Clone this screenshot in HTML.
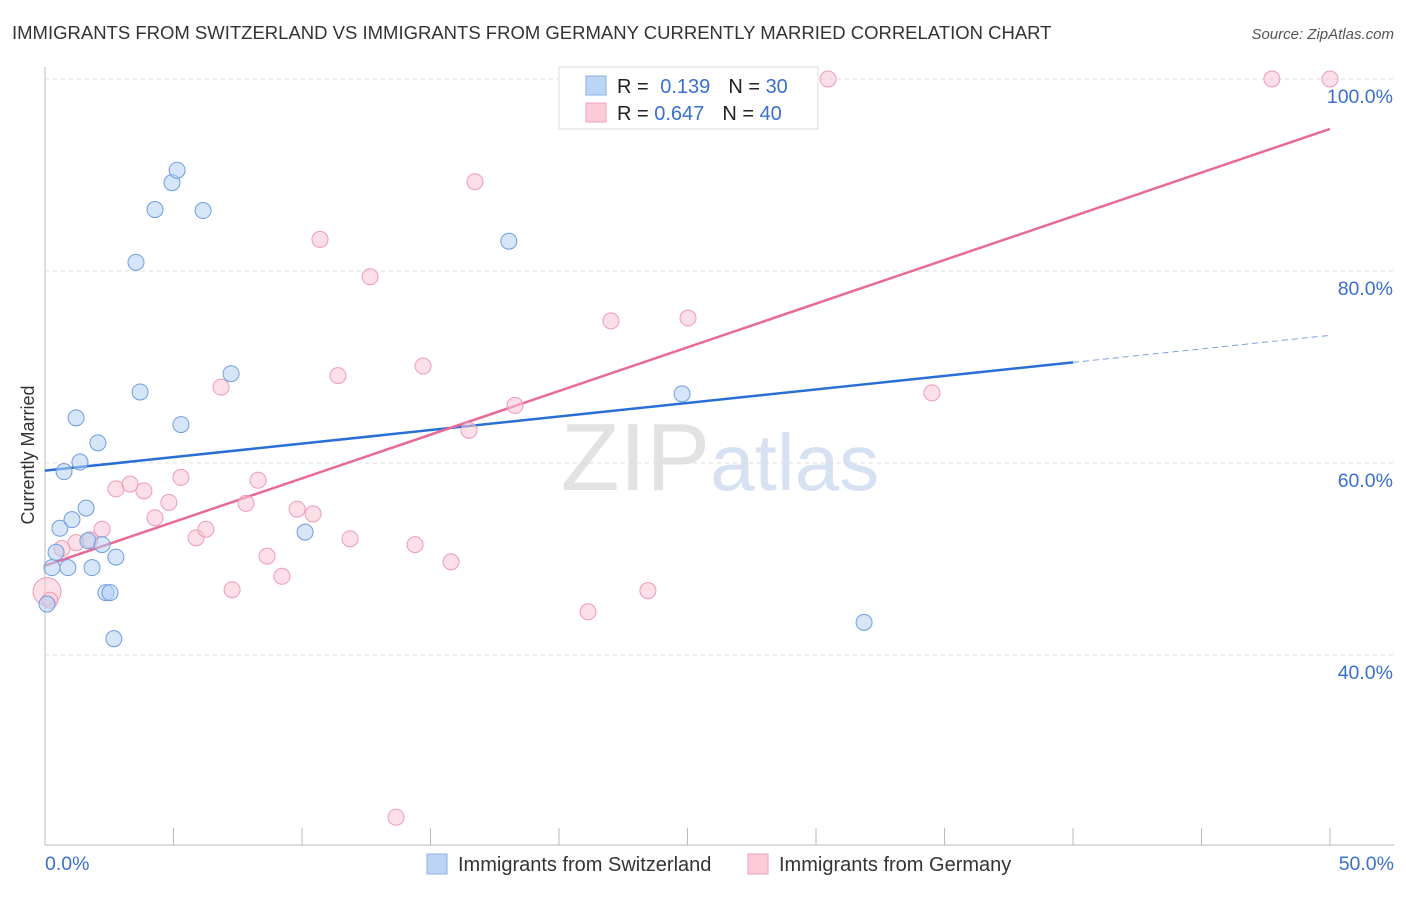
<!DOCTYPE html>
<html><head><meta charset="utf-8"><style>
body{margin:0;background:#fff;font-family:"Liberation Sans",sans-serif;}
svg text{font-family:"Liberation Sans",sans-serif;}
</style></head><body>
<svg id="chart" width="1406" height="892" xmlns="http://www.w3.org/2000/svg">
<text x="12" y="39" font-size="18.5" fill="#333">IMMIGRANTS FROM SWITZERLAND VS IMMIGRANTS FROM GERMANY CURRENTLY MARRIED CORRELATION CHART</text>
<text x="1394" y="39" font-size="15" fill="#555" text-anchor="end" font-style="italic">Source: ZipAtlas.com</text>
<text x="720" y="490" font-size="96" text-anchor="middle" font-family="Liberation Serif"><tspan fill="#e2e2e2">ZIP</tspan><tspan fill="#d6e2f2" font-family="Liberation Sans" font-size="80">atlas</tspan></text>
<g id="grid"></g><g id="axes"></g><g id="lines"></g><g id="points"></g>
<text transform="translate(34,455) rotate(-90)" font-size="18" fill="#333" text-anchor="middle">Currently Married</text>
<g>
<rect x="559" y="67" width="259" height="62" fill="#fff" stroke="#ddd"/>
<rect x="586" y="76" width="20" height="19" fill="#bcd5f5" stroke="#8ab0e6"/>
<rect x="586" y="103" width="20" height="19" fill="#fbcbd9" stroke="#f0a0b8"/>
<text x="617" y="93" font-size="20" fill="#222">R = <tspan fill="#3a6fd0" dx="6">0.139</tspan><tspan dx="18" fill="#222">N = </tspan><tspan fill="#3a6fd0">30</tspan></text>
<text x="617" y="120" font-size="20" fill="#222">R = <tspan fill="#3a6fd0">0.647</tspan><tspan dx="18" fill="#222">N = </tspan><tspan fill="#3a6fd0">40</tspan></text>
</g>
<g>
<rect x="427" y="854" width="20" height="20" fill="#bcd5f5" stroke="#8ab0e6"/>
<text x="458" y="871" font-size="20" fill="#333">Immigrants from Switzerland</text>
<rect x="748" y="854" width="20" height="20" fill="#fbcbd9" stroke="#f0a0b8"/>
<text x="779" y="871" font-size="20" fill="#333">Immigrants from Germany</text>
</g>
</svg>
<script>
const yTicks=[40,60,80,100];
const yTickLabels=["40.0%","60.0%","80.0%","100.0%"];
const blueX=[0.08,0.27,0.43,0.58,0.74,0.89,1.05,1.21,1.36,1.60,1.67,1.83,2.06,2.22,2.37,2.53,2.68,2.76,3.54,3.70,4.28,4.94,5.14,5.29,6.15,7.24,10.12,18.05,24.79,31.87];
const blueY=[45.3,49.1,50.7,53.2,59.1,49.1,54.1,64.7,60.1,55.3,51.9,49.1,62.1,51.5,46.5,46.5,41.7,50.2,80.9,67.4,86.4,89.2,90.5,64.0,86.3,69.3,52.8,83.1,67.2,43.4];
const pinkX=[0.08,0.19,0.66,1.21,1.75,2.22,2.76,3.31,3.85,4.28,4.82,5.29,5.88,6.26,6.85,7.28,7.82,8.29,8.64,9.22,9.81,10.43,10.70,11.40,11.87,12.65,13.66,14.40,14.71,15.80,16.50,16.73,18.29,21.13,22.02,23.46,25.02,30.47,34.51,47.74,50.0];
const pinkY=[46.6,45.7,51.1,51.7,52.0,53.1,57.3,57.8,57.1,54.3,55.9,58.5,52.2,53.1,67.9,46.8,55.8,58.2,50.3,48.2,55.2,54.7,83.3,69.1,52.1,79.4,23.1,51.5,70.1,49.7,63.4,89.3,66.0,44.5,74.8,46.7,75.1,100,67.3,100,100];
const blueLine=[59.2,73.3];
const pinkLine=[49.3,94.8];
const NS="http://www.w3.org/2000/svg";
const X=v=>45+v*25.7, Y=v=>79+(100-v)*9.6;
function mk(t,a,p){const e=document.createElementNS(NS,t);for(const k in a)e.setAttribute(k,a[k]);p.appendChild(e);return e;}
const grid=document.getElementById('grid'),axes=document.getElementById('axes'),lines=document.getElementById('lines'),pts=document.getElementById('points');
yTicks.forEach((t,i)=>{
 const l=mk('line',{x1:45,x2:1394,y1:Y(t),y2:Y(t),stroke:'#ddd','stroke-dasharray':'4,4'},grid);
 
 
 const tx=mk('text',{x:1393,y:Y(t)+24,'font-size':19.5,fill:'#3a6fd0','text-anchor':'end'},grid);
 tx.textContent=yTickLabels[i];
 
 
});
const ya=mk('line',{x1:45,x2:45,y1:67,y2:845,stroke:'#bbb'},axes);


const xa=mk('line',{x1:45,x2:1394,y1:845,y2:845,stroke:'#bbb'},axes);


for(let i=0;i<=10;i++){const t=mk('line',{x1:X(i*5),x2:X(i*5),y1:828,y2:845,stroke:'#bbb'},axes);
 
 }
[[0,"0.0%","start",45],[50,"50.0%","end",1394]].forEach(d=>{const t=mk('text',{x:d[3],y:870,'font-size':19.5,fill:'#3a6fd0','text-anchor':d[2]},axes);t.textContent=d[1];
 
 });
function pt(xs,ys,fill,stroke,name){xs.forEach((x,i)=>{const c=mk('circle',{cx:X(x),cy:Y(ys[i]),r:(i===0&&name==='germany-point')?14:8,fill:fill,'fill-opacity':0.55,stroke:stroke,'stroke-width':1},pts);
 
 });}
pt(pinkX,pinkY,'#f9c4d4','#ee9bb5','germany-point');
pt(blueX,blueY,'#b5cff2','#6f9de0','switzerland-point');
const b=v=>blueLine[0]+(blueLine[1]-blueLine[0])*v/50;
const bl=mk('line',{x1:X(0),y1:Y(b(0)),x2:X(40),y2:Y(b(40)),stroke:'#2a6fd6','stroke-width':2.5},lines);


const bd=mk('line',{x1:X(40),y1:Y(b(40)),x2:X(50),y2:Y(b(50)),stroke:'#7aa3e0','stroke-width':1,'stroke-dasharray':'6,4'},lines);


const pl=mk('line',{x1:X(0),y1:Y(pinkLine[0]),x2:X(50),y2:Y(pinkLine[1]),stroke:'#e86a96','stroke-width':2.5},lines);


</script>
</body></html>
